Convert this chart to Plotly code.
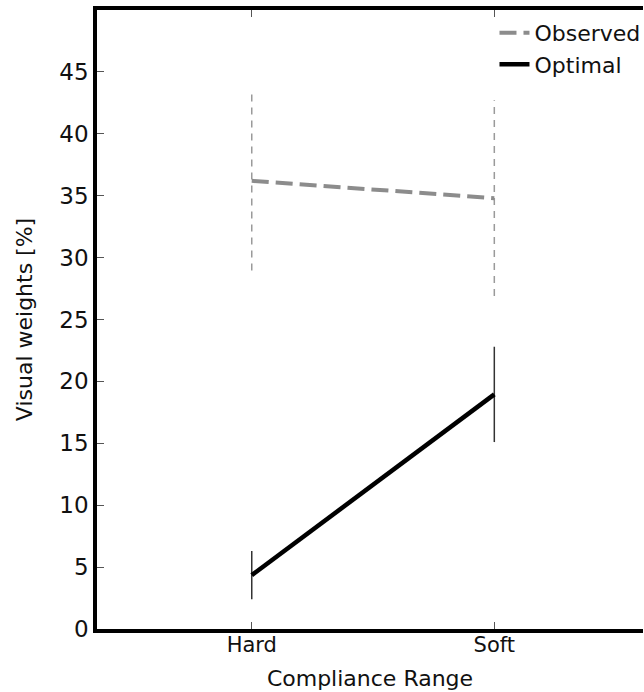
import plotly.graph_objects as go

categories = ["Hard", "Soft"]
observed_mean = [36.2, 34.8]
observed_err = [7.25, 7.9]
optimal_mean = [4.35, 18.95]
optimal_err = [1.95, 3.85]
y_ticks = [0, 5, 10, 15, 20, 25, 30, 35, 40, 45]

xpos = list(range(len(categories)))
FONT = "DejaVu Sans"

fig = go.Figure()

# error bars (no caps) drawn as vertical segments
for i, x in enumerate(xpos):
    fig.add_trace(go.Scatter(
        x=[x, x], y=[observed_mean[i] - observed_err[i], observed_mean[i] + observed_err[i]],
        mode="lines", line=dict(color="#9a9a9a", width=1.5, dash="7px,6px"),
        showlegend=False, hoverinfo="skip"))
    fig.add_trace(go.Scatter(
        x=[x, x], y=[optimal_mean[i] - optimal_err[i], optimal_mean[i] + optimal_err[i]],
        mode="lines", line=dict(color="#333333", width=1.5),
        showlegend=False, hoverinfo="skip"))

fig.add_trace(go.Scatter(
    x=xpos, y=observed_mean, mode="lines", name="Observed",
    line=dict(color="#8c8c8c", width=4, dash="17px,7px")))
fig.add_trace(go.Scatter(
    x=xpos, y=optimal_mean, mode="lines", name="Optimal",
    line=dict(color="black", width=4.5)))

fig.update_layout(
    width=644, height=692,
    margin=dict(l=97, r=1, t=10, b=63, autoexpand=False),
    paper_bgcolor="white", plot_bgcolor="white",
    font=dict(family=FONT, size=21, color="#111111"),
    showlegend=True,
    legend=dict(x=0.728, y=0.997, xanchor="left", yanchor="top",
                bgcolor="rgba(0,0,0,0)", font=dict(size=22),
                tracegroupgap=0, itemwidth=30),
    xaxis=dict(
        range=[-0.638, 1.613], tickvals=xpos, ticktext=categories,
        showline=True, linecolor="black", linewidth=3.5, mirror="ticks",
        ticks="inside", ticklen=7, tickwidth=1, tickcolor="#555555",
        tickfont=dict(size=21), ticklabelstandoff=-6,
        showgrid=False, zeroline=False,
        title=dict(text="Compliance Range", standoff=16,
                   font=dict(family=FONT, size=22, color="#111111")),
    ),
    yaxis=dict(
        range=[0, 50], tickvals=y_ticks,
        showline=True, linecolor="black", linewidth=3.5,
        ticks="inside", ticklen=7, tickwidth=1, tickcolor="#555555",
        tickfont=dict(size=23),
        showgrid=False, zeroline=False,
        title=dict(text="Visual weights [%]", standoff=22,
                   font=dict(family=FONT, size=22, color="#111111")),
    ),
)

fig.write_html("out.html")
